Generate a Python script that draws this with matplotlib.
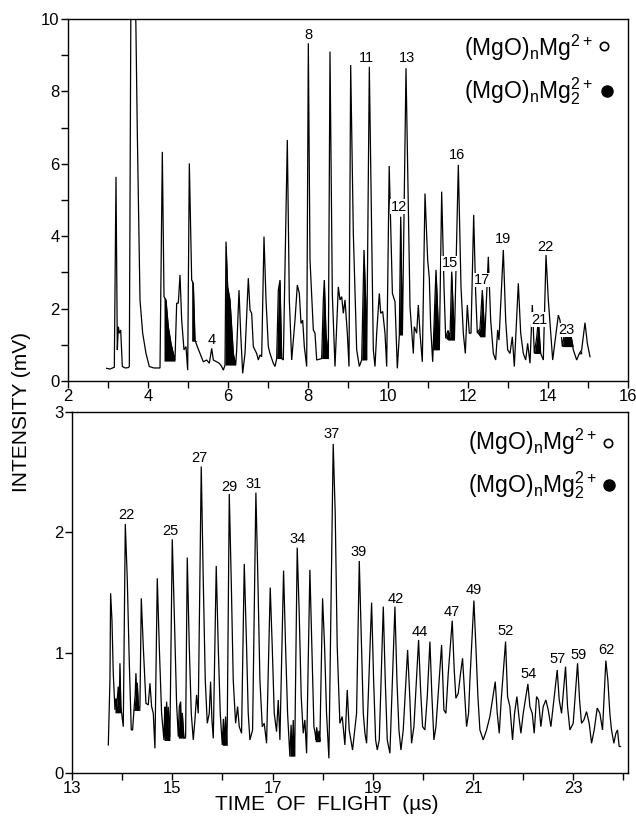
import numpy as np
import matplotlib
matplotlib.use("Agg")
import matplotlib.pyplot as plt

plt.rcParams['font.family'] = ['Liberation Sans', 'DejaVu Sans']
plt.rcParams['mathtext.fontset'] = 'custom'
plt.rcParams['mathtext.rm'] = 'Liberation Sans'
plt.rcParams['mathtext.it'] = 'Liberation Sans'

# ---------------- top panel trace (time µs, intensity mV) ----------------
top_t = [2.967, 3.05, 3.158, 3.2, 3.233, 3.258, 3.283, 3.317, 3.358, 3.43, 3.508, 3.533, 3.58, 3.62, 3.683,
         3.733, 3.8, 3.867, 3.95, 4.033, 4.15, 4.3, 4.358, 4.4, 4.45, 4.508, 4.575, 4.633, 4.675, 4.717,
         4.758, 4.8, 4.842, 4.9, 4.95, 4.992, 5.033, 5.092, 5.133, 5.175, 5.233, 5.3, 5.383, 5.467, 5.533,
         5.592, 5.633, 5.717, 5.783, 5.842, 5.883, 5.925, 5.95, 5.992, 6.05, 6.133, 6.192, 6.217, 6.275,
         6.317, 6.367, 6.425, 6.508, 6.55, 6.592, 6.633, 6.717, 6.758, 6.8, 6.842, 6.9, 6.95, 7.008, 7.05,
         7.133, 7.175, 7.217, 7.258, 7.3, 7.342, 7.383, 7.483, 7.533, 7.592, 7.675, 7.733, 7.783, 7.825,
         7.867, 7.908, 7.967, 8.008, 8.05, 8.133, 8.175, 8.217, 8.342, 8.383, 8.408, 8.45, 8.508, 8.55,
         8.608, 8.675, 8.758, 8.8, 8.842, 8.883, 8.925, 8.983, 9.025, 9.067, 9.133, 9.217, 9.283, 9.342,
         9.4, 9.442, 9.467, 9.533, 9.592, 9.633, 9.675, 9.717, 9.783, 9.817, 9.867, 9.925, 9.967,
         10.03, 10.11, 10.175, 10.233, 10.283, 10.317, 10.36, 10.45, 10.55, 10.633, 10.658, 10.717, 10.758,
         10.8, 10.858, 10.925, 10.992, 11.033, 11.067, 11.117, 11.2, 11.283, 11.342, 11.4, 11.442, 11.5,
         11.55, 11.592, 11.66, 11.758, 11.825, 11.883, 11.933, 11.983, 12.033, 12.075, 12.142, 12.192,
         12.233, 12.3, 12.358, 12.42, 12.508, 12.567, 12.633, 12.692, 12.742, 12.775, 12.883, 12.942,
         12.992, 13.05, 13.108, 13.158, 13.258, 13.317, 13.383, 13.442, 13.492, 13.55, 13.608, 13.658,
         13.717, 13.758, 13.817, 13.883, 13.95, 14.008, 14.067, 14.117, 14.2, 14.258, 14.3, 14.358,
         14.425, 14.483, 14.55, 14.633, 14.717, 14.783, 14.842, 14.925, 14.983, 15.05]
top_i = [0.35, 0.33, 0.38, 5.64, 0.86, 1.50, 1.32, 1.41, 0.40, 0.36, 0.37, 0.40, 12.5, 13.0, 11.0,
         6.84, 2.24, 1.32, 0.76, 0.40, 0.36, 0.36, 6.33, 2.33, 2.24, 1.50, 1.04, 0.76, 0.58, 2.15,
         2.15, 2.93, 1.68, 0.86, 0.95, 0.30, 6.01, 2.79, 2.70, 1.13, 0.95, 0.76, 0.53, 0.58, 0.49,
         0.90, 0.58, 0.53, 0.49, 0.40, 0.30, 0.44, 3.85, 2.60, 2.24, 0.76, 0.44, 0.86, 2.51,
         1.32, 0.21, 0.76, 2.84, 1.96, 1.87, 0.95, 0.76, 0.58, 0.72, 0.67, 3.99, 2.24, 0.95, 0.76,
         0.49, 0.40, 0.62, 2.51, 2.79, 0.62, 0.58, 6.66, 2.24, 0.58, 1.68, 2.65, 2.42, 1.59,
         1.68, 0.95, 0.40, 9.33, 3.35, 1.41, 1.32, 0.58, 0.62, 2.24, 2.79, 1.32, 0.62, 9.10,
         2.40, 0.40, 2.60, 2.24, 2.33, 1.87, 2.24, 1.32, 0.40, 8.73, 4.08, 0.86, 0.40, 0.58,
         3.62, 2.24, 0.58, 8.68, 4.08, 0.86, 0.40, 1.32, 2.42, 1.87, 1.92, 1.32, 0.40,
         5.94, 2.42, 2.19, 0.35, 1.27, 4.54, 1.27, 8.64, 2.05, 0.76, 1.50, 1.32, 2.10,
         1.32, 0.53, 5.18, 3.34, 2.84, 1.50, 0.53, 3.07, 0.86, 5.23, 2.60, 1.18, 1.40,
         1.20, 3.02, 1.13, 5.97, 2.60, 1.32, 0.76, 2.10, 1.32, 1.32, 4.59, 2.42,
         1.32, 1.45, 2.51, 1.22, 3.43, 1.68, 0.76, 0.58, 1.41, 1.13, 3.62, 1.68,
         0.86, 0.76, 1.22, 0.40, 2.70, 1.32, 0.76, 0.58, 1.04, 0.49, 2.10, 0.76,
         1.20, 1.68, 0.76, 0.58, 3.48, 2.24, 1.32, 0.58, 1.32, 1.82, 1.68, 0.95,
         1.41, 1.32, 1.41, 0.86, 0.58, 0.76, 0.86, 1.61, 1.04, 0.67]

# black-filled (MgO)nMg2 2+ peaks: start, end, local baseline
top_fill_start = [4.39, 5.09, 5.94, 7.21, 8.34, 9.28, 10.25, 11.13, 11.45, 12.24, 13.66, 14.37, 14.76]
top_fill_end   = [4.68, 5.18, 6.20, 7.35, 8.52, 9.48, 10.40, 11.29, 11.70, 12.44, 13.89, 14.59, 14.87]
top_fill_base  = [0.55, 1.10, 0.44, 0.62, 0.62, 0.58, 1.27, 0.86, 1.13, 1.22, 0.76, 0.95, 0.75]

top_lbl = ['4', '8', '11', '13', '12', '16', '15', '17', '19', '22', '21', '23']
top_lbl_x = [5.59, 8.01, 9.47, 10.47, 10.27, 11.73, 11.55, 12.34, 12.87, 13.93, 13.78, 14.47]
top_lbl_y = [1.13, 9.56, 8.91, 8.91, 4.82, 6.24, 3.25, 2.79, 3.91, 3.71, 1.69, 1.41]

# ---------------- bottom panel trace ----------------
bot_t = [13.724, 13.757, 13.770, 13.797, 13.823, 13.857, 13.875, 13.89, 13.923, 13.94, 13.956, 13.975, 13.99,
         14.023, 14.063, 14.103, 14.143, 14.182, 14.209, 14.236, 14.26, 14.275, 14.29, 14.302, 14.329,
         14.355, 14.382, 14.422, 14.475, 14.521, 14.555, 14.588, 14.621, 14.654, 14.701, 14.741, 14.787,
         14.834, 14.85, 14.86, 14.887, 14.9, 14.92, 14.953, 15.0, 15.04, 15.086, 15.12, 15.14, 15.166,
         15.18, 15.2, 15.233, 15.266, 15.299, 15.339, 15.379, 15.419, 15.452, 15.485, 15.518, 15.578,
         15.618, 15.658, 15.698, 15.738, 15.764, 15.791, 15.818, 15.877, 15.917, 15.957, 15.997, 16.02,
         16.04, 16.063, 16.08, 16.097, 16.137, 16.176, 16.216, 16.263, 16.303, 16.336, 16.382, 16.436,
         16.482, 16.515, 16.549, 16.602, 16.668, 16.708, 16.748, 16.795, 16.834, 16.881, 16.954, 16.994,
         17.034, 17.08, 17.114, 17.147, 17.22, 17.26, 17.3, 17.346, 17.37, 17.39, 17.413, 17.43, 17.446,
         17.492, 17.532, 17.572, 17.612, 17.645, 17.679, 17.745, 17.785, 17.825, 17.85, 17.865, 17.88,
         17.905, 17.925, 17.944, 17.998, 18.038, 18.077, 18.124, 18.21, 18.25, 18.29, 18.343, 18.39,
         18.443, 18.49, 18.529, 18.596, 18.676, 18.73, 18.776, 18.81, 18.843, 18.876, 18.976, 19.016,
         19.056, 19.089, 19.129, 19.209, 19.248, 19.288, 19.341, 19.441, 19.481, 19.521, 19.561, 19.607,
         19.694, 19.74, 19.773, 19.82, 19.913, 19.953, 19.993, 20.039, 20.086, 20.139, 20.179, 20.219,
         20.259, 20.372, 20.418, 20.458, 20.505, 20.584, 20.624, 20.657, 20.704, 20.75, 20.79, 20.83,
         20.87, 20.91, 20.937, 21.016, 21.056, 21.096, 21.136, 21.202, 21.269, 21.335, 21.442, 21.482,
         21.522, 21.561, 21.648, 21.688, 21.734, 21.787, 21.827, 21.874, 21.914, 21.954, 22.0, 22.093,
         22.133, 22.18, 22.219, 22.266, 22.306, 22.352, 22.399, 22.452, 22.499, 22.552, 22.678, 22.718,
         22.765, 22.804, 22.844, 22.884, 22.931, 22.997, 23.084, 23.124, 23.163, 23.21, 23.263, 23.316,
         23.363, 23.416, 23.476, 23.529, 23.582, 23.648, 23.688, 23.728, 23.761, 23.808, 23.848, 23.881,
         23.914, 23.941]
bot_i = [0.233, 0.773, 1.494, 1.272, 0.829, 0.524, 0.62, 0.55, 0.718, 0.50, 0.912, 0.55, 0.496,
         0.385, 2.070, 1.604, 0.912, 0.358, 0.358, 0.524, 0.65, 0.829, 0.60, 0.75, 0.524,
         0.552, 1.452, 1.050, 0.579, 0.566, 0.746, 0.552, 0.496, 0.205, 1.618, 1.050, 0.496,
         0.275, 0.55, 0.30, 0.593, 0.30, 0.55, 0.30, 1.942, 1.327, 0.579, 0.302, 0.55, 0.593,
         0.30, 0.50, 0.288, 0.30, 1.790, 1.050, 0.496, 0.275, 0.441, 0.649, 0.496, 2.547,
         1.604, 0.773, 0.413, 0.496, 0.759, 0.441, 0.288, 1.721, 1.050, 0.496, 0.233, 0.45,
         0.25, 0.469, 0.25, 0.40, 2.319, 1.604, 0.773, 0.413, 0.552, 0.385, 0.330, 1.738,
         1.050, 0.496, 0.275, 0.358, 2.330, 1.604, 0.773, 0.385, 0.413, 0.247, 1.541, 1.050,
         0.496, 0.344, 0.607, 0.275, 1.682, 1.050, 0.496, 0.136, 0.40, 0.14, 0.44, 0.15, 0.30,
         1.873, 1.327, 0.635, 0.330, 0.441, 0.164, 1.688, 1.050, 0.385, 0.33, 0.275, 0.38,
         0.26, 0.35, 0.261, 1.452, 1.050, 0.496, 0.122, 2.735, 2.159, 1.050, 0.413, 0.469,
         0.233, 0.690, 0.358, 0.191, 0.496, 1.762, 1.050, 0.496, 0.330, 0.247, 1.416, 0.773,
         0.275, 0.191, 0.275, 1.383, 0.773, 0.275, 0.164, 1.383, 0.773, 0.358, 0.191, 0.358,
         1.023, 0.607, 0.247, 0.385, 1.106, 0.690, 0.385, 0.358, 0.635, 1.092, 0.635, 0.275,
         0.385, 1.064, 0.524, 0.496, 0.829, 1.266, 0.856, 0.621, 0.662, 0.829, 0.953, 0.662,
         0.385, 0.496, 0.773, 1.433, 1.050, 0.635, 0.358, 0.275, 0.358, 0.469, 0.759, 0.496,
         0.330, 0.607, 1.092, 0.635, 0.552, 0.275, 0.496, 0.635, 0.469, 0.330, 0.496, 0.740,
         0.552, 0.496, 0.330, 0.635, 0.607, 0.385, 0.552, 0.607, 0.524, 0.385, 0.856, 0.607,
         0.496, 0.690, 0.884, 0.552, 0.358, 0.413, 0.912, 0.607, 0.413, 0.441, 0.510, 0.413,
         0.247, 0.358, 0.540, 0.496, 0.358, 0.934, 0.773, 0.496, 0.358, 0.247, 0.330, 0.358,
         0.22, 0.22]

bot_fill_start = [13.85, 14.23, 14.83, 15.11, 15.99, 17.34, 17.85]
bot_fill_end   = [14.00, 14.36, 14.96, 15.27, 16.10, 17.45, 17.95]
bot_fill_base  = [0.50, 0.52, 0.27, 0.29, 0.23, 0.14, 0.26]

bot_lbl = ['22', '25', '27', '29', '31', '34', '37', '39', '42', '44', '47', '49', '52', '54', '57', '59', '62']
bot_lbl_x = [14.09, 14.97, 15.55, 16.13, 16.63, 17.49, 18.18, 18.71, 19.46, 19.94, 20.58, 21.02, 21.65,
             22.10, 22.68, 23.10, 23.65]
bot_lbl_y = [2.145, 2.01, 2.62, 2.38, 2.40, 1.945, 2.815, 1.84, 1.45, 1.17, 1.335, 1.52, 1.18,
             0.823, 0.945, 0.98, 1.02]

legend_lines = [r'(MgO)$_{\rm n}$Mg$^{\rm 2+}$', r'(MgO)$_{\rm n}$Mg$_{\rm 2}^{\rm 2+}$']

W, H = 636, 825
fig = plt.figure(figsize=(W / 100, H / 100), dpi=100)
ax1 = fig.add_axes([68 / W, 1 - 381 / H, 560 / W, 362 / H])
ax2 = fig.add_axes([72 / W, 1 - 773 / H, 556 / W, 361 / H])


def draw(ax, t, i, fs, fe, fb):
    t = np.asarray(t)
    i = np.asarray(i)
    ax.plot(t, i, color='black', lw=0.9, solid_joinstyle='miter')
    for a, b, base in zip(fs, fe, fb):
        m = (t >= a) & (t <= b)
        ax.fill_between(t, np.maximum(i, base), base, where=m, interpolate=True,
                        color='black', lw=0)


draw(ax1, top_t, top_i, top_fill_start, top_fill_end, top_fill_base)
draw(ax2, bot_t, bot_i, bot_fill_start, bot_fill_end, bot_fill_base)

ax1.set_xlim(2, 16)
ax1.set_ylim(0, 10)
ax1.set_xticks(np.arange(2, 17, 2))
ax1.set_xticks(np.arange(3, 16, 2), minor=True)
ax1.set_yticks(np.arange(0, 11, 2))
ax1.set_yticks(np.arange(1, 10, 2), minor=True)

ax2.set_xlim(13, 24.09)
ax2.set_ylim(0, 3)
ax2.set_xticks(np.arange(13, 24, 2))
ax2.set_xticks(np.arange(14, 25, 2), minor=True)
ax2.set_yticks([0, 1, 2, 3])

for ax in (ax1, ax2):
    ax.tick_params(which='both', direction='out', length=5, width=1, labelsize=12, pad=1,
                   top=False, right=False)
    for s in ax.spines.values():
        s.set_linewidth(1.0)

for s, x, y in zip(top_lbl, top_lbl_x, top_lbl_y):
    ax1.text(x, y, s, ha='center', va='center', fontsize=10.5,
             bbox=dict(facecolor='white', edgecolor='none', pad=0.3))
for s, x, y in zip(bot_lbl, bot_lbl_x, bot_lbl_y):
    ax2.text(x, y, s, ha='center', va='center', fontsize=10.5)

# legends
for ax, xt, ys, xm, ym in ((ax1, 0.9375, (0.898, 0.780), (0.957, 0.9625), (0.925, 0.800)),
                           (ax2, 0.944, (0.895, 0.778), (0.964, 0.966), (0.914, 0.798))):
    for k, txt in enumerate(legend_lines):
        ax.text(xt, ys[k], txt, transform=ax.transAxes, ha='right', va='baseline', fontsize=16.5)
    ax.plot([xm[0]], [ym[0]], transform=ax.transAxes, marker='o', ms=6, mfc='white', mec='black',
            mew=1.2, clip_on=False)
    ax.plot([xm[1]], [ym[1]], transform=ax.transAxes, marker='o', ms=8, mfc='black', mec='black',
            clip_on=False)

fig.text(22 / W, 1 - 412 / H, 'INTENSITY (mV)', rotation=90, ha='center', va='center', fontsize=15)
fig.text(327 / W, 1 - 805 / H, 'TIME  OF  FLIGHT  (µs)', ha='center', va='center', fontsize=15)

fig.savefig('out.png', dpi=100)
